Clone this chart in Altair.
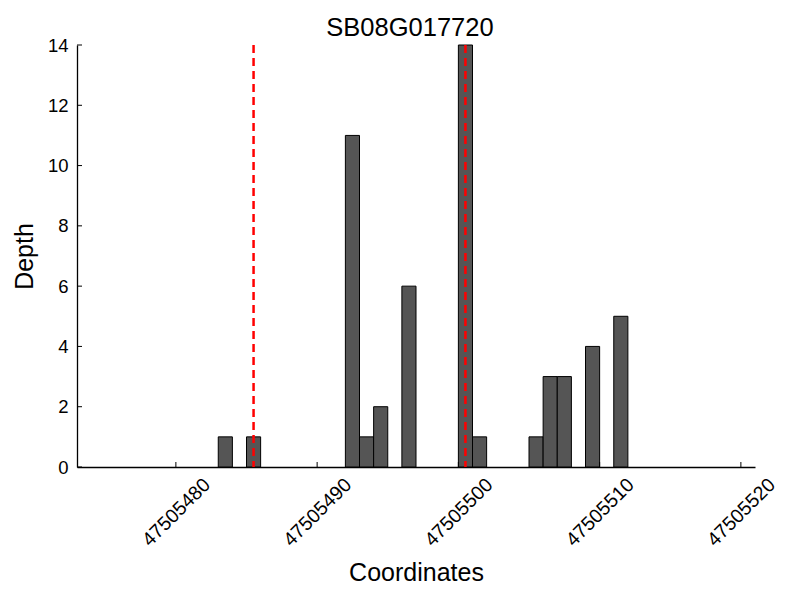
import altair as alt
import pandas as pd

# Data
coords = [47505483, 47505485, 47505492, 47505493, 47505494, 47505496,
          47505500, 47505501, 47505505, 47505506, 47505507, 47505509, 47505511]
depths = [1, 1, 11, 1, 2, 6, 14, 1, 1, 3, 3, 4, 5]
vlines = [47505485.5, 47505500.5]
x_ticks = [47505480, 47505490, 47505500, 47505510, 47505520]
y_ticks = [0, 2, 4, 6, 8, 10, 12, 14]
x_domain = [47505473, 47505521]
y_domain = [0, 14]
title_text = ["SB08G017720"]

FONT = "Liberation Sans"
W, H = 678, 422

bars_df = pd.DataFrame({"coord": coords, "depth": depths})
vl_df = pd.DataFrame({"pos": vlines})
xt_df = pd.DataFrame({"t": x_ticks})
yt_df = pd.DataFrame({"t": y_ticks})
title_df = pd.DataFrame({"label": title_text})

xscale = alt.Scale(domain=x_domain, nice=False, zero=False)
yscale = alt.Scale(domain=y_domain, nice=False)

bars = alt.Chart(bars_df).transform_calculate(
    end="datum.coord + 1"
).mark_bar(color="#555555", stroke="black", strokeWidth=1).encode(
    x=alt.X("coord:Q", scale=xscale,
            axis=alt.Axis(values=x_ticks, format="d", title="Coordinates",
                          labelAngle=-45, labelAlign="center", labelBaseline="middle",
                          labelPadding=45, labelFontSize=19.5, labelFont=FONT,
                          labelColor="black", tickSize=0, ticks=False, grid=False,
                          domainColor="black", domainWidth=1.3,
                          titleFont=FONT, titleFontSize=25, titleFontWeight="normal",
                          titleColor="black", titlePadding=11, labelOverlap=False)),
    x2="end:Q",
    y=alt.Y("depth:Q", scale=yscale,
            axis=alt.Axis(values=y_ticks, title="Depth", labelFontSize=18.5,
                          labelFont=FONT, labelColor="black", labelPadding=9,
                          tickSize=0, ticks=False, grid=False,
                          domainColor="black", domainWidth=1.3,
                          titleFont=FONT, titleFontSize=25, titleFontWeight="normal",
                          titleColor="black", titlePadding=10)),
    y2=alt.datum(0),
)

red = alt.Chart(vl_df).mark_rule(color="red", strokeWidth=2.5, strokeDash=[8, 5]).encode(
    x=alt.X("pos:Q", scale=xscale),
    y=alt.value(0),
    y2=alt.value(H),
)

xticks = alt.Chart(xt_df).mark_rule(color="black", strokeWidth=1).encode(
    x=alt.X("t:Q", scale=xscale),
    y=alt.value(H),
    y2=alt.value(H - 5),
)

yticks = alt.Chart(yt_df).mark_rule(color="black", strokeWidth=1).encode(
    y=alt.Y("t:Q", scale=yscale),
    x=alt.value(0),
    x2=alt.value(5),
)

title = alt.Chart(title_df).mark_text(
    font=FONT, fontSize=25.5, color="black", align="center", baseline="alphabetic"
).encode(
    text="label:N",
    x=alt.value(W / 2 - 6),
    y=alt.value(-9),
)

chart = alt.layer(bars, red, xticks, yticks, title).properties(
    width=W,
    height=H,
    background="white",
    autosize=alt.AutoSizeParams(type="none"),
    padding={"left": 69, "top": 37, "right": 30, "bottom": 120},
).configure_view(strokeWidth=0, stroke=None)

chart.save("out.html", embed_options={"renderer": "svg", "actions": False})
